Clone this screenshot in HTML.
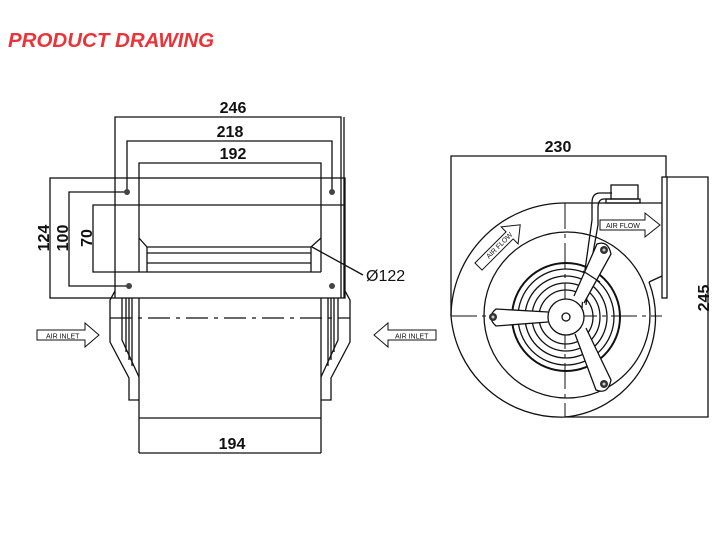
<!DOCTYPE html>
<html><head><meta charset="utf-8"><style>
body{margin:0;background:#fff;width:721px;height:540px;overflow:hidden}
svg{display:block}
text{font-family:"Liberation Sans","DejaVu Sans",sans-serif}
</style></head><body>
<svg width="721" height="540" viewBox="0 0 721 540" xmlns="http://www.w3.org/2000/svg">
<text x="8" y="47" font-size="20.5" font-weight="bold" font-style="italic" fill="#e8343a">PRODUCT DRAWING</text>
<g fill="none" stroke="#111" stroke-width="1.3">
<polyline points="115,298 115,117 341,117 341,298"/>
<line x1="344" y1="117" x2="344" y2="298"/>
<polyline points="127,192 127,141 332,141 332,192"/>
<polyline points="139,272 139,163 321,163 321,272"/>
<rect x="50" y="178" width="295" height="120"/>
<polyline points="127,192 69,192 69,286 129,286"/>
<polyline points="345,205 93,205 93,272 321,272"/>
<polyline points="139,238 147,247 311,247 321,238"/>
<line x1="147" y1="247" x2="147" y2="272"/><line x1="311" y1="247" x2="311" y2="272"/>
<line x1="147" y1="253" x2="311" y2="253"/><line x1="147" y1="263" x2="311" y2="263"/>
<line x1="312" y1="247" x2="363" y2="275"/>
<line x1="139" y1="298" x2="139" y2="453"/><line x1="321" y1="298" x2="321" y2="453"/>
<polyline points="139,418 321,418"/><line x1="139" y1="453" x2="321" y2="453"/>
<line x1="110" y1="318" x2="350" y2="318" stroke-dasharray="22,6,4,6"/>
<polyline points="115,291 110,300 110,342 129,378 129,400 139,400"/>
<polyline points="122,298 122,340 139,377"/>
<line x1="126" y1="298" x2="126" y2="352"/><line x1="129" y1="298" x2="129" y2="360"/><line x1="132" y1="298" x2="132" y2="366"/>
<polyline points="345,291 350,300 350,342 331,378 331,400 321,400"/>
<polyline points="338,298 338,340 321,377"/>
<line x1="334" y1="298" x2="334" y2="352"/><line x1="331" y1="298" x2="331" y2="360"/><line x1="328" y1="298" x2="328" y2="366"/>
<polygon points="37,330 85,330 85,323 99,335 85,347 85,340 37,340" stroke-width="1"/>
<polygon points="436,330 388,330 388,323 374,335 388,347 388,340 436,340" stroke-width="1"/>
</g>
<g fill="#444">
<circle cx="127" cy="192" r="3"/><circle cx="332" cy="192" r="3"/><circle cx="129" cy="286" r="3"/><circle cx="332" cy="286" r="3"/>
</g>
<g font-weight="bold" font-size="16" fill="#111" text-anchor="middle">
<text x="233" y="113">246</text><text x="230" y="137">218</text><text x="233" y="159">192</text>
<text x="232" y="449">194</text>
<text transform="translate(49,238) rotate(-90)">124</text>
<text transform="translate(68,238) rotate(-90)">100</text>
<text transform="translate(92,238) rotate(-90)">70</text>
<text x="558" y="152">230</text>
<text transform="translate(709,298) rotate(-90)">245</text>
</g>
<text x="366" y="281" font-size="16" fill="#111">Ø122</text>
<text x="46" y="338.5" font-size="7" fill="#111">AIR INLET</text>
<text x="395" y="338.5" font-size="7" fill="#111">AIR INLET</text>
<g fill="none" stroke="#111" stroke-width="1.3">
<polyline points="451,316 451,156 666,156 666,177"/>
<rect x="662" y="177" width="5" height="121"/>
<polyline points="667,177 708,177 708,417 565,417"/>
<path d="M649,282 A100 100 0 0 1 565,417 A110 110 0 0 1 451,316 A114 114 0 0 1 565,203 L662,203"/>
<line x1="649" y1="282" x2="662" y2="276"/>
<circle cx="567" cy="315" r="83"/>
<circle cx="566" cy="317" r="54" stroke-width="2"/>
<circle cx="566" cy="317" r="48"/>
<circle cx="566" cy="317" r="41"/>
<circle cx="566" cy="317" r="34"/>
<circle cx="566" cy="317" r="27"/>
<line x1="451" y1="316" x2="662" y2="316" stroke-dasharray="26,5,4,5" stroke-width="1"/>
<line x1="565" y1="203" x2="565" y2="417" stroke-dasharray="26,5,4,5" stroke-width="1"/>
<rect x="611" y="185" width="27" height="14"/>
<rect x="606" y="199" width="34" height="4"/>
<path d="M612,193 L600,193 Q592,193 592,203 L592,220 L585,270 L582,308"/>
<path d="M612,199 L604,199 Q598,199 598,208 L598,225 L590,270 L586,305"/>
<path d="M548,312 L496,309 Q486,317 496,326 L548,322" fill="#fff"/>
<path d="M574,296 L597,244 Q608,240 611,254 L584,303" fill="#fff"/>
<path d="M575,334 L596,390 Q608,395 611,380 L586,328" fill="#fff"/>
<circle cx="566" cy="317" r="18" fill="#fff"/>
<circle cx="566" cy="317" r="4"/>
<line x1="583" y1="271" x2="600" y2="282"/>
<polygon points="600,220 645,220 645,213 660,225 645,237 645,230 600,230" stroke-width="1"/>
<g transform="rotate(-45 499 246)"><polygon points="470,241 514,241 514,234 529,246 514,258 514,251 470,251" stroke-width="1" fill="#fff"/></g>
</g>
<g fill="#333"><circle cx="493" cy="317" r="4"/><circle cx="604" cy="250" r="4"/><circle cx="604" cy="384" r="4"/></g>
<g fill="#ccc"><circle cx="493" cy="317" r="1.5"/><circle cx="604" cy="250" r="1.5"/><circle cx="604" cy="384" r="1.5"/></g>
<text x="606" y="228" font-size="7" fill="#111">AIR FLOW</text>
<text transform="translate(489,259) rotate(-45)" font-size="7" fill="#111">AIR FLOW</text>
</svg>
</body></html>
